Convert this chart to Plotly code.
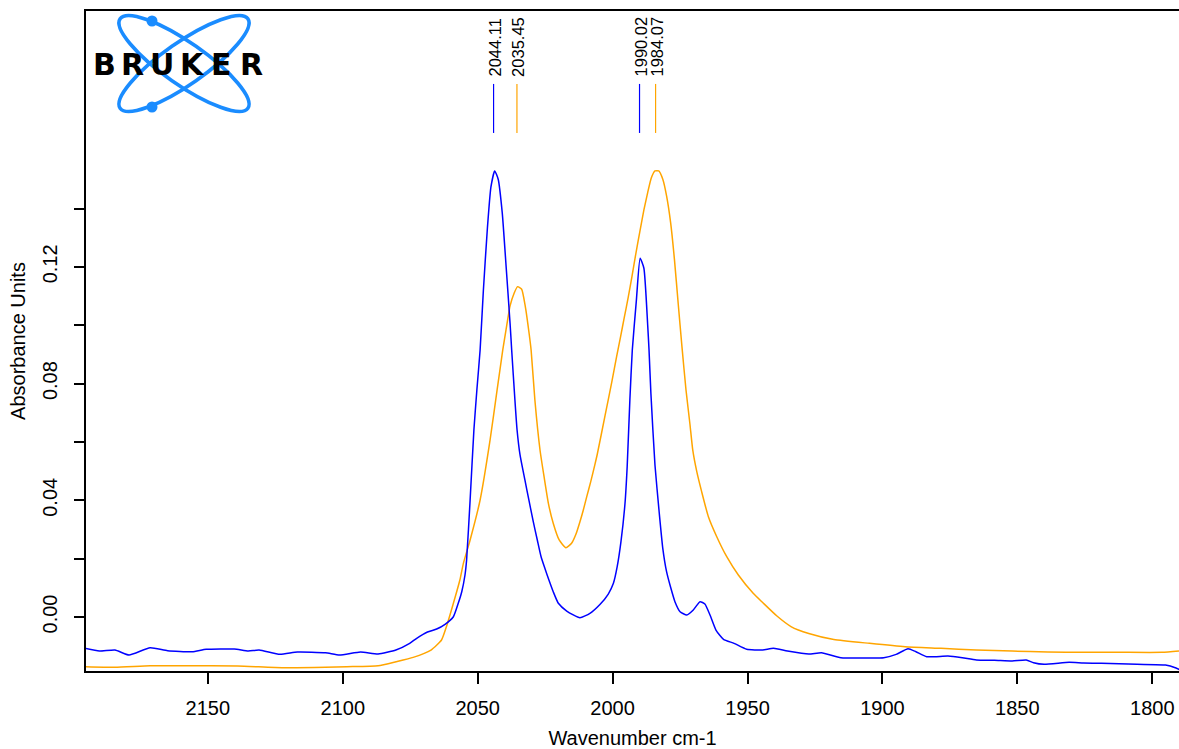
import base64
import plotly.graph_objects as go

# ---------------- data ----------------
blue_wn = [2195.4, 2190.2, 2184.4, 2179.2, 2171.4, 2164.9, 2155.8, 2150.6, 2140.2, 2135.0,
           2131.0, 2123.3, 2116.8, 2106.4, 2101.2, 2093.4, 2086.9, 2080.3, 2075.2, 2072.6,
           2068.6, 2065.2, 2062.1, 2059.0, 2057.2, 2055.9, 2054.7, 2054.1, 2052.8, 2051.4,
           2050.3, 2049.1, 2047.9, 2046.4, 2045.1, 2043.7, 2042.4, 2040.9, 2039.5, 2038.0,
           2037.4, 2036.2, 2035.4, 2034.3, 2032.5, 2030.9, 2029.4, 2027.9, 2026.5, 2025.1,
           2023.6, 2022.0, 2020.1, 2017.0, 2012.1, 2008.4, 2004.7, 2001.6, 1999.7, 1998.3,
           1996.9, 1995.4, 1994.6, 1993.6, 1992.7, 1991.2, 1989.8, 1988.4, 1987.0, 1986.5,
           1985.8, 1984.3, 1982.7, 1981.4, 1980.0, 1978.5, 1976.9, 1975.0, 1972.5, 1970.1,
           1967.6, 1965.8, 1963.9, 1961.7, 1958.9, 1955.0, 1950.3, 1944.4, 1940.4, 1935.2,
           1927.3, 1922.6, 1915.4, 1904.8, 1899.5, 1894.9, 1890.5, 1887.6, 1883.6, 1875.7,
           1870.4, 1865.2, 1858.5, 1851.9, 1846.7, 1844.0, 1840.1, 1830.8, 1825.5, 1818.9,
           1805.7, 1795.1, 1791.2, 1790.0]
blue_abs = [-0.01073, -0.01166, -0.01131, -0.01303, -0.01052, -0.01155, -0.01190, -0.01107, -0.01097, -0.01166,
            -0.01131, -0.01279, -0.01200, -0.01224, -0.01303, -0.01200, -0.01268, -0.01131, -0.00902, -0.00730,
            -0.00514, -0.00411, -0.00250, 0.00010, 0.00470, 0.00867, 0.01440, 0.01954, 0.04011, 0.06411,
            0.07782, 0.09153, 0.11176, 0.13325, 0.14731, 0.15290, 0.15005, 0.13860, 0.12067, 0.10069,
            0.09153, 0.07439, 0.06411, 0.05554, 0.04697, 0.03953, 0.03267, 0.02640, 0.02067, 0.01670,
            0.01268, 0.00867, 0.00470, 0.00206, -0.00024, 0.00127, 0.00429, 0.00788, 0.01155, 0.01724,
            0.02581, 0.03898, 0.05153, 0.07439, 0.09153, 0.10843, 0.12297, 0.11954, 0.10010, 0.09153,
            0.07650, 0.05211, 0.03555, 0.02355, 0.01553, 0.01018, 0.00525, 0.00182, 0.00069, 0.00240,
            0.00525, 0.00446, 0.00069, -0.00446, -0.00764, -0.00902, -0.01107, -0.01131, -0.01073, -0.01166,
            -0.01268, -0.01224, -0.01395, -0.01406, -0.01395, -0.01279, -0.01087, -0.01190, -0.01361, -0.01337,
            -0.01395, -0.01474, -0.01484, -0.01508, -0.01474, -0.01567, -0.01622, -0.01553, -0.01577, -0.01587,
            -0.01622, -0.01646, -0.01748, -0.01800]

orange_wn = [2195.4, 2184.4, 2171.4, 2158.5, 2138.9, 2122.0, 2106.4, 2098.5, 2086.9, 2080.3,
             2073.9, 2067.3, 2063.4, 2061.5, 2059.0, 2056.6, 2055.3, 2052.8, 2049.1, 2045.4,
             2042.8, 2040.7, 2039.5, 2038.0, 2036.5, 2035.2, 2033.7, 2032.4, 2030.9, 2030.2,
             2028.8, 2026.9, 2025.4, 2023.8, 2022.0, 2019.8, 2017.3, 2015.2, 2013.6, 2012.1,
             2010.9, 2009.6, 2008.1, 2006.5, 2005.7, 2002.8, 2000.2, 1998.5, 1997.0, 1995.7,
             1994.2, 1992.8, 1991.4, 1989.8, 1988.4, 1987.0, 1985.7, 1984.3, 1982.9, 1981.4,
             1980.0, 1978.5, 1977.1, 1975.7, 1974.3, 1972.8, 1971.3, 1970.3, 1968.8, 1967.0,
             1964.5, 1961.4, 1957.7, 1953.4, 1947.9, 1944.4, 1939.1, 1933.9, 1927.3, 1918.0,
             1904.8, 1891.6, 1878.3, 1865.2, 1851.9, 1838.7, 1825.5, 1812.3, 1796.4, 1790.1]
orange_abs = [-0.01704, -0.01724, -0.01670, -0.01670, -0.01680, -0.01738, -0.01724, -0.01704, -0.01670, -0.01532,
              -0.01382, -0.01131, -0.00788, -0.00309, 0.00470, 0.01268, 0.01841, 0.02640, 0.04011, 0.06068,
              0.07782, 0.09153, 0.09839, 0.10662, 0.11097, 0.11323, 0.11234, 0.10672, 0.09691, 0.09153,
              0.07439, 0.05725, 0.04810, 0.03898, 0.03212, 0.02640, 0.02376, 0.02527, 0.02835, 0.03267,
              0.03650, 0.04120, 0.04640, 0.05250, 0.05570, 0.06900, 0.08100, 0.08930, 0.09630, 0.10250,
              0.10960, 0.11680, 0.12450, 0.13260, 0.13953, 0.14546, 0.15039, 0.15290, 0.15290, 0.15005,
              0.14433, 0.13517, 0.12273, 0.10754, 0.09266, 0.07782, 0.06582, 0.05725, 0.04981, 0.04296,
              0.03438, 0.02753, 0.02067, 0.01440, 0.00812, 0.00497, 0.00034, -0.00326, -0.00566, -0.00771,
              -0.00902, -0.01018, -0.01073, -0.01131, -0.01166, -0.01200, -0.01210, -0.01210, -0.01210, -0.01166]

peak_wn = [2044.11, 2035.45, 1990.02, 1984.07]
peak_labels = ["2044.11", "2035.45", "1990.02", "1984.07"]
peak_series = ["blue", "orange", "blue", "orange"]
peak_line_range = [0.1659, 0.1827]

x_ticks = [2150, 2100, 2050, 2000, 1950, 1900, 1850, 1800]
y_ticks = [0.00, 0.04, 0.08, 0.12]
y_tick_text = ["0.00", "0.04", "0.08", "0.12"]
y_minor_ticks = [0.02, 0.06, 0.10, 0.14]
x_range = [2195.15, 1790.1]
y_range = [-0.0185, 0.2077]

logo_letters = ["B", "R", "U", "K", "E", "R"]

# ---------------- styles ----------------
COLORS = {"blue": "#0000ff", "orange": "#ffa500"}
FONT = "Liberation Sans, Arial, sans-serif"
W, H = 1179, 749
ML, MR, MT, MB = 86, 0, 11, 78
PW, PH = W - ML - MR, H - MT - MB
LOGO_BLUE = "#1a8cff"

fig = go.Figure()
fig.add_trace(go.Scatter(x=orange_wn, y=orange_abs, mode="lines",
                         line=dict(color=COLORS["orange"], width=1.5, shape="spline", smoothing=0.5),
                         showlegend=False, hoverinfo="skip"))
fig.add_trace(go.Scatter(x=blue_wn, y=blue_abs, mode="lines",
                         line=dict(color=COLORS["blue"], width=1.5, shape="spline", smoothing=0.5),
                         showlegend=False, hoverinfo="skip"))

annotations = []
for wn, lab, ser in zip(peak_wn, peak_labels, peak_series):
    fig.add_trace(go.Scatter(x=[wn, wn], y=peak_line_range, mode="lines",
                             line=dict(color=COLORS[ser], width=1.2),
                             showlegend=False, hoverinfo="skip"))
    annotations.append(dict(x=wn, y=peak_line_range[1], xref="x", yref="y", text=lab,
                            textangle=-90, showarrow=False, xanchor="center", yanchor="bottom",
                            yshift=5, xshift=1, font=dict(family=FONT, size=16.5, color="black")))

# logo letters (real text)
letter_px = [104, 132, 162, 192, 221, 251]
for ch, px in zip(logo_letters, letter_px):
    annotations.append(dict(x=(px - ML) / PW, y=(H - MB - 64.5) / PH, xref="paper", yref="paper",
                            text=ch, showarrow=False, xanchor="center", yanchor="middle",
                            font=dict(family="DejaVu Sans", size=30, color="black", weight=900)))

# logo orbits as an svg image
svg = ('<svg xmlns="http://www.w3.org/2000/svg" width="170" height="110" viewBox="0 0 170 110">'
       f'<g fill="none" stroke="{LOGO_BLUE}" stroke-width="3.6">'
       '<ellipse cx="85" cy="55.5" rx="78" ry="21" transform="rotate(35 85 55.5)"/>'
       '<ellipse cx="85" cy="55.5" rx="78" ry="21" transform="rotate(-35 85 55.5)"/>'
       '</g>'
       f'<circle cx="53" cy="13" r="5.5" fill="{LOGO_BLUE}"/>'
       f'<circle cx="53" cy="99" r="5.5" fill="{LOGO_BLUE}"/>'
       '</svg>')
svg_uri = "data:image/svg+xml;base64," + base64.b64encode(svg.encode()).decode()

fig.update_layout(
    width=W, height=H,
    margin=dict(l=ML, r=MR, t=MT, b=MB, pad=0, autoexpand=False),
    plot_bgcolor="white", paper_bgcolor="white",
    font=dict(family=FONT, color="black"),
    showlegend=False,
    hovermode=False,
    annotations=annotations,
    images=[dict(source=svg_uri, xref="paper", yref="paper",
                 x=(99 - ML) / PW, y=(H - MB - 8) / PH,
                 sizex=170 / PW, sizey=110 / PH, sizing="stretch",
                 xanchor="left", yanchor="top", layer="above")],
    xaxis=dict(range=x_range, tickvals=x_ticks, ticks="outside", ticklen=11, tickwidth=1.5,
               tickcolor="black", showline=True, linecolor="black", linewidth=1.5, mirror=True,
               showgrid=False, zeroline=False, automargin=False, ticklabelstandoff=7,
               tickfont=dict(family=FONT, size=20, color="black"),
               title=dict(text="Wavenumber cm-1", font=dict(family=FONT, size=20, color="black"),
                          standoff=13)),
    yaxis=dict(range=y_range, tickvals=y_ticks, ticktext=y_tick_text, tickangle=-90,
               ticks="outside", ticklen=10, tickwidth=1.5, tickcolor="black",
               minor=dict(tickvals=y_minor_ticks, ticks="outside", ticklen=10, tickwidth=1.5,
                          tickcolor="black", showgrid=False),
               showline=True, linecolor="black", linewidth=1.5, mirror=False,
               showgrid=False, zeroline=False, automargin=False, ticklabelstandoff=9,
               tickfont=dict(family=FONT, size=20, color="black"),
               title=dict(text="Absorbance Units", font=dict(family=FONT, size=20, color="black"),
                          standoff=8)),
)

fig.write_html("out.html", config={"displayModeBar": False},
               post_script="document.body.style.margin='0';document.body.style.padding='0';")
